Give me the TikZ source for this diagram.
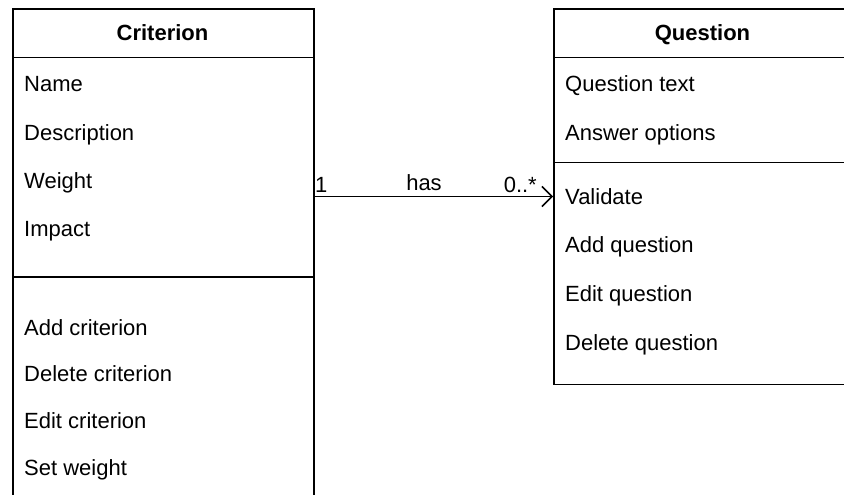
\documentclass[tikz,border=0pt]{standalone}
\usepackage{fontspec}
\setmainfont{Liberation Sans}
\usetikzlibrary{arrows.meta}
\tikzset{
  umlline/.style={line width=1.5pt, draw=black},
  classbox/.style={umlline, rectangle, inner sep=0pt, anchor=north west},
  title/.style={font=\fontsize{22}{26}\selectfont\bfseries, anchor=base},
  member/.style={font=\fontsize{22}{26}\selectfont, anchor=base west, inner sep=0pt},
  assoc/.style={font=\fontsize{22}{26}\selectfont, anchor=base, inner sep=0pt},
  rel/.style={umlline, -{Straight Barb[length=10pt,width=20pt,line width=1.5pt]}},
}
\begin{document}
\begin{tikzpicture}[x=1pt,y=-1pt]
\useasboundingbox (0,0) rectangle (844,495);
\clip (0,0) rectangle (844,495);

% Criterion class
\node[classbox, minimum width=301pt, minimum height=520pt] (crit) at (12,8.5) {};
\coordinate (critH) at (12,57.5);
\coordinate (critS) at (12,277);
\draw[umlline] (critH) -- (critH -| crit.east);
\draw[umlline] (critS) -- (critS -| crit.east);
\node[title] (critT) at (162.5,41) {Criterion};
\node[member] (c1) at (24,92) {Name};
\node[member] (c2) at (24,140) {Description};
\node[member] (c3) at (24,188) {Weight};
\node[member] (c4) at (24,236) {Impact};
\node[member] (c5) at (24,335) {Add criterion};
\node[member] (c6) at (24,381) {Delete criterion};
\node[member] (c7) at (24,428) {Edit criterion};
\node[member] (c8) at (24,475) {Set weight};

% Question class
\node[classbox, minimum width=299pt, minimum height=375pt] (ques) at (553,8.5) {};
\coordinate (quesH) at (553,57.5);
\coordinate (quesS) at (553,162.5);
\draw[umlline] (quesH) -- (quesH -| ques.east);
\draw[umlline] (quesS) -- (quesS -| ques.east);
\node[title] (quesT) at (702.5,41) {Question};
\node[member] (q1) at (565,92) {Question text};
\node[member] (q2) at (565,140) {Answer options};
\node[member] (q3) at (565,204) {Validate};
\node[member] (q4) at (565,252) {Add question};
\node[member] (q5) at (565,301) {Edit question};
\node[member] (q6) at (565,350) {Delete question};

% Association
\coordinate (aS) at (313,196.5);
\draw[rel] (aS) -- (aS -| ques.west);
\node[assoc, anchor=base west] (m1) at (315,192) {1};
\node[assoc] (lbl) at (424,190) {has};
\node[assoc, anchor=base east] (m2) at (537,192) {0..*};
\end{tikzpicture}
\end{document}
